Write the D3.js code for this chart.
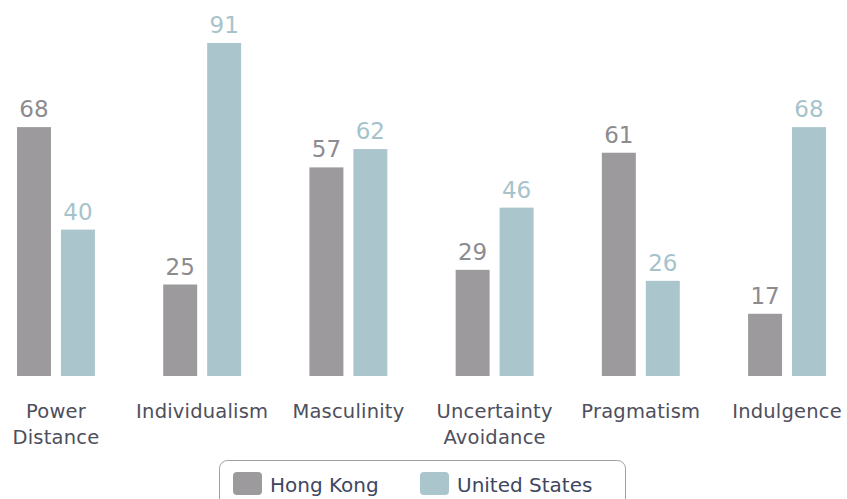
<!DOCTYPE html>
<html>
<head>
<meta charset="utf-8">
<script src="https://cdnjs.cloudflare.com/ajax/libs/d3/7.8.5/d3.min.js"></script>
<style>
  body { margin: 0; background: #fff; }
  svg text { font-family: "DejaVu Sans", sans-serif; }
</style>
</head>
<body>
<div id="chart"></div>
<script>
var categories = [["Power", "Distance"], ["Individualism"], ["Masculinity"], ["Uncertainty", "Avoidance"], ["Pragmatism"], ["Indulgence"]];
var seriesNames = ["Hong Kong", "United States"];
var hongKong = [68, 25, 57, 29, 61, 17];
var unitedStates = [40, 91, 62, 46, 26, 68];
var colors = ["#9c9a9d", "#aac5cb"];
var labelColors = ["#8d8b8e", "#a6c3cb"];

var width = 847, height = 499;

var svg = d3.select("#chart").append("svg")
    .attr("width", width)
    .attr("height", height);

var keys = categories.map(function (c) { return c.join(" "); });

// outer band for each dimension, inner band for each country
var x0 = d3.scaleBand()
    .domain(keys)
    .range([17, 826])
    .paddingInner(0.467)
    .paddingOuter(0);

var x1 = d3.scaleBand()
    .domain(seriesNames)
    .range([0, x0.bandwidth()])
    .paddingInner(0.227);

var y = d3.scaleLinear()
    .domain([0, 100])
    .range([376, 10]);

var rows = keys.map(function (k, i) {
    return {key: k, values: [hongKong[i], unitedStates[i]]};
});

var group = svg.selectAll("g.dim")
    .data(rows)
    .enter().append("g")
    .attr("class", "dim")
    .attr("transform", function (d) { return "translate(" + x0(d.key) + ",0)"; });

group.selectAll("rect")
    .data(function (d) {
        return d.values.map(function (v, j) { return {name: seriesNames[j], value: v, j: j}; });
    })
    .enter().append("rect")
    .attr("x", function (d) { return x1(d.name); })
    .attr("y", function (d) { return y(d.value); })
    .attr("width", x1.bandwidth())
    .attr("height", function (d) { return y(0) - y(d.value); })
    .attr("fill", function (d) { return colors[d.j]; });

group.selectAll("text.val")
    .data(function (d) {
        return d.values.map(function (v, j) { return {name: seriesNames[j], value: v, j: j}; });
    })
    .enter().append("text")
    .attr("class", "val")
    .attr("x", function (d) { return x1(d.name) + x1.bandwidth() / 2; })
    .attr("y", function (d) { return y(d.value) - 10; })
    .attr("text-anchor", "middle")
    .attr("font-size", "23px")
    .attr("fill", function (d) { return labelColors[d.j]; })
    .text(function (d) { return d.value; });

// category labels, up to two lines
var catText = svg.selectAll("text.cat")
    .data(categories)
    .enter().append("text")
    .attr("class", "cat")
    .attr("text-anchor", "middle")
    .attr("font-size", "19.5px")
    .attr("letter-spacing", "0.2px")
    .attr("fill", "#4e4e5c")
    .attr("transform", function (d, i) {
        return "translate(" + (x0(keys[i]) + x0.bandwidth() / 2) + ",418)";
    });

catText.selectAll("tspan")
    .data(function (d) { return d; })
    .enter().append("tspan")
    .attr("x", 0)
    .attr("y", function (d, i) { return i * 26; })
    .text(function (d) { return d; });

// legend
var legend = svg.append("g");
legend.append("rect")
    .attr("x", 219.5)
    .attr("y", 460.5)
    .attr("width", 406)
    .attr("height", 60)
    .attr("rx", 8)
    .attr("fill", "#fff")
    .attr("stroke", "#a0a0a0");

var legendX = [233, 420];
var item = legend.selectAll("g.item")
    .data(seriesNames)
    .enter().append("g")
    .attr("class", "item")
    .attr("transform", function (d, i) { return "translate(" + legendX[i] + ",472)"; });

item.append("rect")
    .attr("width", 29)
    .attr("height", 23)
    .attr("rx", 4)
    .attr("fill", function (d, i) { return colors[i]; });

item.append("text")
    .attr("x", 37)
    .attr("y", 20)
    .attr("font-size", "20px")
    .attr("fill", "#3e4660")
    .text(function (d) { return d; });
</script>
</body>
</html>
